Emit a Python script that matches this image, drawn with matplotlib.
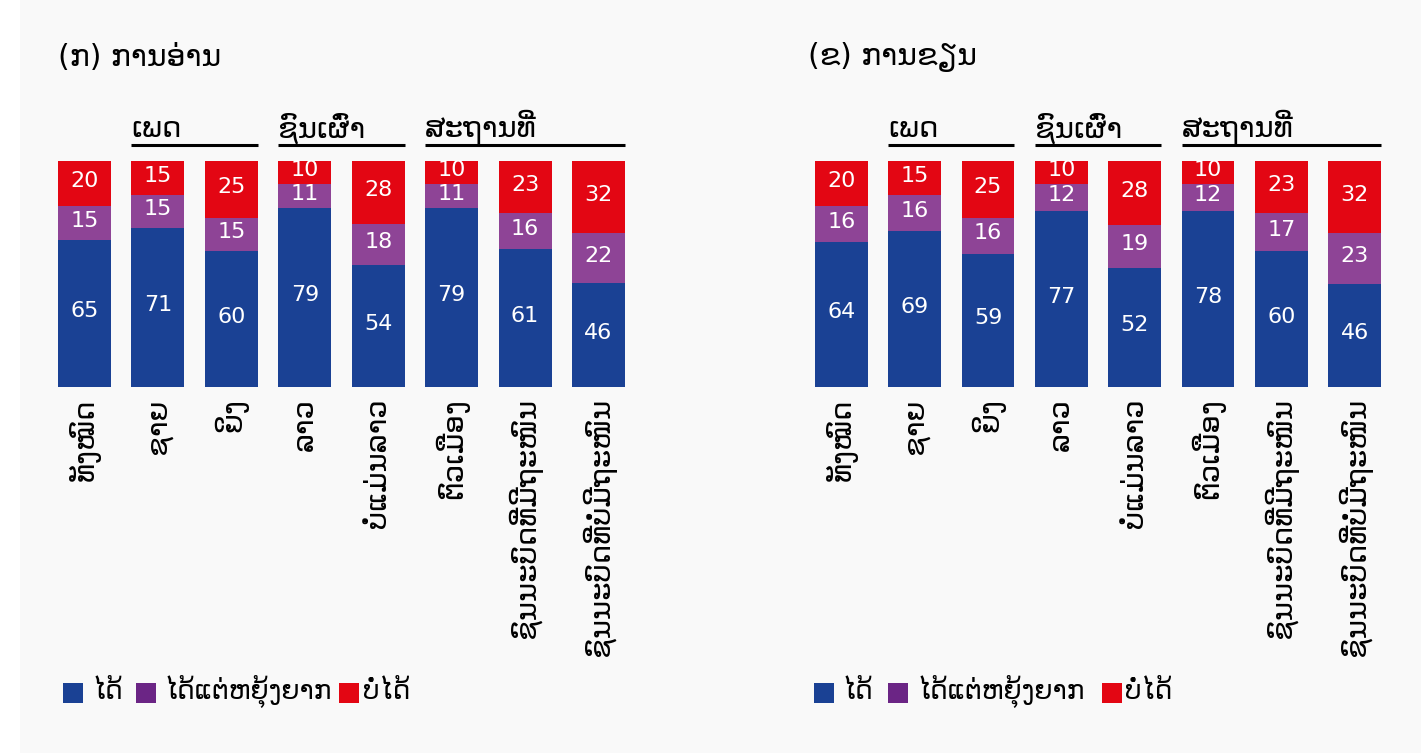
import numpy as np
import matplotlib.pyplot as plt
from matplotlib.patches import Rectangle
from matplotlib.transforms import blended_transform_factory

plt.rcParams['font.family'] = ['DejaVu Sans']

# categories (Lao)
categories = ['ທັງໝົດ', 'ຊາຍ', 'ຍິງ', 'ລາວ', 'ບໍ່ແມ່ນລາວ', 'ຕົວເມືອງ',
              'ຊົນນະບົດທີ່ມີຖະໜົນ', 'ຊົນນະບົດທີ່ບໍ່ມີຖະໜົນ']
groups = ['ເພດ', 'ຊົນເຜົ່າ', 'ສະຖານທີ່']
group_span = [(1, 2), (3, 4), (5, 7)]
series_names = ['ໄດ້', 'ໄດ້ແຕ່ຫຍຸ້ງຍາກ', 'ບໍ່ໄດ້']
titles = ['(ກ) ການອ່ານ', '(ຂ) ການຂຽນ']

# (a) reading
read_ok = [65, 71, 60, 79, 54, 79, 61, 46]
read_hard = [15, 15, 15, 11, 18, 11, 16, 22]
read_no = [20, 15, 25, 10, 28, 10, 23, 32]
# (b) writing
write_ok = [64, 69, 59, 77, 52, 78, 60, 46]
write_hard = [16, 16, 16, 12, 19, 12, 17, 23]
write_no = [20, 15, 25, 10, 28, 10, 23, 32]

panels = [(read_ok, read_hard, read_no), (write_ok, write_hard, write_no)]

bar_colors = ['#1a4194', '#8e4496', '#e30613']
legend_colors = ['#1a4194', '#6b2585', '#e30613']

W, H = 1421, 753
fig = plt.figure(figsize=(W / 100, H / 100), dpi=100)
fig.patch.set_facecolor('white')
fig.patches.append(Rectangle((20 / W, 0), 1 - 20 / W, 1, transform=fig.transFigure,
                             facecolor='#f9f9f9', edgecolor='none', zorder=-10))

# pixel extents of the two bar areas
ax_px = [(58, 625), (815, 1381)]
title_x = [58, 808]
legend_px = [[(63, 93), (136, 165), (339, 363)],
             [(814, 843), (888, 918), (1102, 1125)]]

top_px, bot_px = 161, 387
width = 0.72
x = np.arange(len(categories))

for p, (ok, hard, no) in enumerate(panels):
    x0, x1 = ax_px[p]
    ax = fig.add_axes([x0 / W, 1 - bot_px / H, (x1 - x0) / W, (bot_px - top_px) / H])
    ax.set_facecolor('none')
    ok, hard, no = np.array(ok), np.array(hard), np.array(no)
    total = ok + hard + no
    # stacked shares, scaled so every bar fills 100 %
    shares = [ok * 100 / total, hard * 100 / total, no * 100 / total]
    bottoms = [np.zeros(len(ok)), shares[0], shares[0] + shares[1]]
    for vals, shr, bot, col in zip([ok, hard, no], shares, bottoms, bar_colors):
        ax.bar(x, shr, width, bottom=bot, color=col, edgecolor='none')
        for xi, v, s, b in zip(x, vals, shr, bot):
            ax.text(xi, b + s / 2 + 1, str(v), ha='center', va='center',
                    color='white', fontsize=16)
    ax.set_xlim(-width / 2, len(x) - 1 + width / 2)
    ax.set_ylim(0, 100)
    for s in ax.spines.values():
        s.set_visible(False)
    ax.set_yticks([])
    ax.set_xticks(x)
    ax.set_xticklabels(categories, rotation=90, fontsize=21)
    ax.tick_params(axis='x', length=0, pad=8)

    tr = blended_transform_factory(ax.transData, ax.transAxes)
    for g, (a, b) in zip(groups, group_span):
        ax.plot([a - width / 2, b + width / 2], [1.071, 1.071], color='black',
                lw=2.2, transform=tr, clip_on=False, solid_capstyle='butt')
        ax.text(a - width / 2, 1.105, g, transform=tr, ha='left', va='baseline',
                fontsize=21)

    fig.text(title_x[p] / W, 1 - 57 / H, titles[p], ha='left', va='center', fontsize=21.5)

    # legend
    for (sq_x, tx_x), name, col in zip(legend_px[p], series_names, legend_colors):
        fig.patches.append(Rectangle((sq_x / W, 1 - 703 / H), 20 / W, 20 / H,
                                     transform=fig.transFigure, facecolor=col,
                                     edgecolor='none'))
        fig.text(tx_x / W, 1 - 692 / H, name, ha='left', va='center', fontsize=19)

fig.savefig('out.png', dpi=100, facecolor=fig.get_facecolor())
